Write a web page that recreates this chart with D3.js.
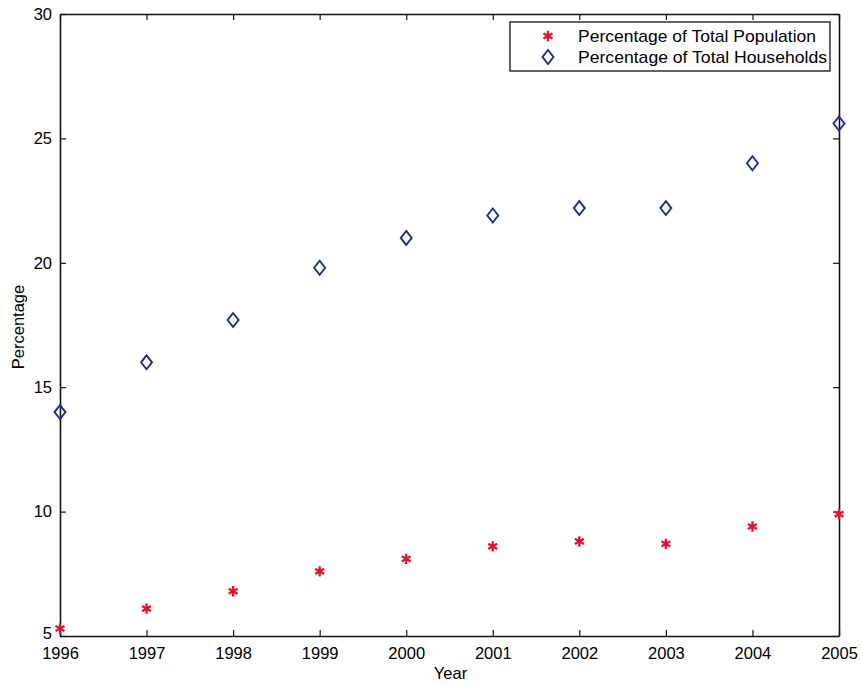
<!DOCTYPE html>
<html lang="en">
  <head>
    <meta charset="UTF-8" />
    <title>Percentage</title>
    <style>
      body { margin: 0; background: #fff; }
      text { font-family: "Liberation Sans", Arial, sans-serif; fill: #000; }
      .domain, .tick line { stroke: #111; }
    </style>
  </head>
  <body>
    <svg></svg>
    <script src="https://cdnjs.cloudflare.com/ajax/libs/d3/7.1.0/d3.min.js"></script>
    <script>
      const years = [1996, 1997, 1998, 1999, 2000, 2001, 2002, 2003, 2004, 2005];
      const population = [5.3, 6.1, 6.8, 7.6, 8.1, 8.6, 8.8, 8.7, 9.4, 9.9];
      const households = [14.0, 16.0, 17.7, 19.8, 21.0, 21.9, 22.2, 22.2, 24.0, 25.6];
      const yTicks = [5, 10, 15, 20, 25, 30];
      const seriesNames = ["Percentage of Total Population", "Percentage of Total Households"];

      const W = 862, H = 685;
      const margin = { top: 14, right: 23, bottom: 49, left: 60 };
      const width = W - margin.left - margin.right;
      const height = H - margin.top - margin.bottom;

      const svg = d3.select("svg").attr("width", W).attr("height", H);
      const g = svg.append("g").attr("transform", "translate(" + [margin.left, margin.top] + ")");

      const x = d3.scaleLinear().domain([1996, 2005]).range([0, width]);
      const y = d3.scaleLinear().domain([5, 30]).range([height, 0]);

      // box with inward ticks on all sides
      g.append("g").attr("transform", "translate(0," + height + ")")
        .call(d3.axisBottom(x).tickValues(years).tickFormat(d3.format("d")).tickSizeInner(-6).tickSizeOuter(0).tickPadding(11))
        .call(a => a.selectAll("text").attr("font-size", 16.5));
      g.append("g")
        .call(d3.axisTop(x).tickValues(years).tickFormat("").tickSizeInner(-6).tickSizeOuter(0));
      g.append("g")
        .call(d3.axisLeft(y).tickValues(yTicks).tickSizeInner(-6).tickSizeOuter(0).tickPadding(8))
        .call(a => a.selectAll("text").attr("font-size", 16.5))
        .call(a => a.selectAll(".tick").filter(d => d === 5).select("text").attr("dy", "0.15em"));
      g.append("g").attr("transform", "translate(" + width + ",0)")
        .call(d3.axisRight(y).tickValues(yTicks).tickFormat("").tickSizeInner(-6).tickSizeOuter(0));
      g.selectAll(".domain").attr("stroke-width", 1.6);
      g.selectAll(".tick line").attr("stroke-width", 1.2);

      // axis titles
      svg.append("text").attr("x", margin.left + width / 2 + 1).attr("y", H - 6)
        .attr("text-anchor", "middle").attr("font-size", 16.5).text("Year");
      svg.append("text").attr("transform", "translate(24," + (margin.top + height / 2 + 2) + ") rotate(-90)")
        .attr("text-anchor", "middle").attr("font-size", 16.5).text("Percentage");

      const star = d3.symbol().type(d3.symbolAsterisk).size(75);
      function drawStar(sel) {
        sel.append("path").attr("d", star).attr("fill", "none").attr("stroke", "#e8102a").attr("stroke-width", 2.3);
      }
      function drawDiamond(sel) {
        sel.append("path").attr("d", "M0,-7L5.5,0L0,7L-5.5,0Z")
          .attr("fill", "none").attr("stroke", "#1a2c9e").attr("stroke-width", 1.9);
      }

      g.selectAll(".pop").data(years).enter().append("g").attr("class", "pop")
        .attr("transform", (d, i) => "translate(" + x(d) + "," + y(population[i]) + ")")
        .call(drawStar);
      g.selectAll(".hh").data(years).enter().append("g").attr("class", "hh")
        .attr("transform", (d, i) => "translate(" + x(d) + "," + y(households[i]) + ")")
        .call(drawDiamond);

      // legend
      const lg = svg.append("g").attr("transform", "translate(510,22)");
      lg.append("rect").attr("width", 320).attr("height", 49)
        .attr("fill", "#fff").attr("stroke", "#111").attr("stroke-width", 1.3);
      seriesNames.forEach((name, i) => {
        const row = lg.append("g").attr("transform", "translate(38," + (14 + i * 21) + ")");
        if (i === 0) row.call(drawStar); else row.call(drawDiamond);
        row.append("text").attr("x", 30).attr("y", 6).attr("font-size", 17)
          .attr("textLength", i === 0 ? 238 : 249).attr("lengthAdjust", "spacingAndGlyphs").text(name);
      });
    </script>
  </body>
</html>
